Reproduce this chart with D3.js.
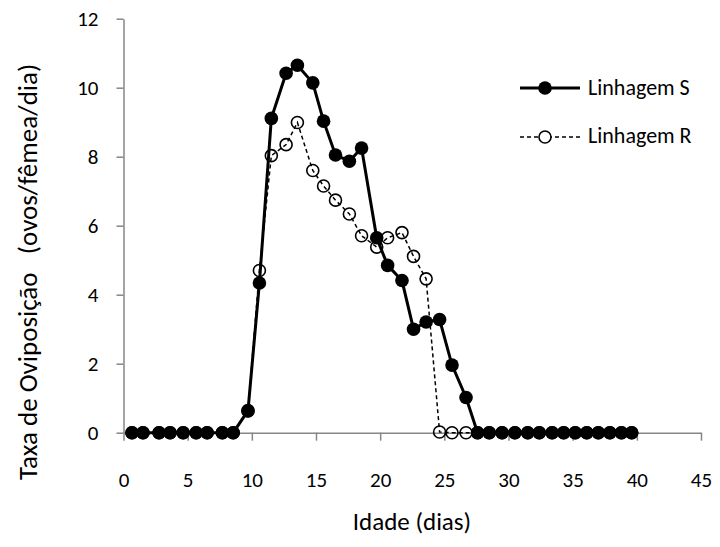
<!DOCTYPE html>
<html>
<head>
<meta charset="utf-8">
<script src="https://cdn.jsdelivr.net/npm/d3@7"></script>
<style>
    body { margin: 0; background: #fff; }
    text { font-family: Calibri, Carlito, Lato, sans-serif; fill: #000; }
</style>
</head>
<body>
<div id="chart"></div>
<script>
const width = 720,
    height = 547;

// Idade (dias)
const idade = [
    0.66, 1.52, 2.77, 3.63, 4.65, 5.66, 6.52, 7.7, 8.55,
    9.7, 10.59, 11.52, 12.67, 13.55, 14.75, 15.59, 16.52, 17.6, 18.55,
    19.73, 20.58, 21.7, 22.6, 23.58, 24.63, 25.6, 26.69,
    27.59, 28.5, 29.5, 30.5, 31.5, 32.4, 33.4, 34.3, 35.2, 36.1, 37.0,
    37.9, 38.8, 39.6
];
const linhagemS = [
    0, 0, 0, 0, 0, 0, 0, 0, 0,
    0.64, 4.34, 9.11, 10.42, 10.65, 10.14, 9.03, 8.05, 7.87, 8.25,
    5.65, 4.85, 4.41, 3.0, 3.21, 3.28, 1.96, 1.02,
    0, 0, 0, 0, 0, 0, 0, 0, 0, 0, 0, 0, 0, 0
];
const linhagemR = [
    0, 0, 0, 0, 0, 0, 0, 0, 0,
    0.63, 4.7, 8.03, 8.35, 8.99, 7.6, 7.15, 6.74, 6.34, 5.71,
    5.38, 5.65, 5.8, 5.11, 4.46, 0.02, 0, 0,
    0, 0, 0, 0, 0, 0, 0, 0, 0, 0, 0, 0, 0, 0
];
const xTicks = [0, 5, 10, 15, 20, 25, 30, 35, 40, 45];
const yTicks = [0, 2, 4, 6, 8, 10, 12];

const svg = d3
    .select("#chart")
    .append("svg")
    .attr("width", width)
    .attr("height", height);

const xScale = d3.scaleLinear().domain([0, 45]).range([123.5, 701]);
const yScale = d3.scaleLinear().domain([0, 12]).range([432.7, 18.7]);

const axisColor = "#868686";

// Axes
const xAxis = svg
    .append("g")
    .attr("transform", `translate(0, ${yScale(0)})`)
    .call(d3.axisBottom(xScale).tickValues(xTicks).tickSize(8).tickSizeOuter(0).tickPadding(31));
const yAxis = svg
    .append("g")
    .attr("transform", `translate(${xScale(0)}, 0)`)
    .call(d3.axisLeft(yScale).tickValues(yTicks).tickSize(7).tickSizeOuter(0).tickPadding(18));

[xAxis, yAxis].forEach((g) => {
    g.select(".domain").attr("stroke", axisColor).attr("stroke-width", 1.5);
    g.selectAll(".tick line").attr("stroke", axisColor).attr("stroke-width", 1.5);
    g.selectAll(".tick text")
        .attr("fill", "#000")
        .style("font-size", "21px")
        .style("font-family", "Calibri, Carlito, Lato, sans-serif");
});

// Axis titles
svg.append("text")
    .attr("x", 412)
    .attr("y", 530)
    .attr("text-anchor", "middle")
    .style("font-size", "25px")
    .text("Idade (dias)");

svg.append("text")
    .attr("transform", `translate(37, 480) rotate(-90)`)
    .attr("text-anchor", "start")
    .style("font-size", "27px")
    .style("white-space", "pre")
    .text("Taxa de Oviposição   (ovos/fêmea/dia)");

const rows = idade.map((d, i) => ({ x: d, s: linhagemS[i], r: linhagemR[i] }));

const lineR = d3.line().x((d) => xScale(d.x)).y((d) => yScale(d.r));
const lineS = d3.line().x((d) => xScale(d.x)).y((d) => yScale(d.s));

// Linhagem R (dashed, open circles)
svg.append("path")
    .datum(rows)
    .attr("fill", "none")
    .attr("stroke", "#000")
    .attr("stroke-width", 1.5)
    .attr("stroke-dasharray", "4,3")
    .attr("d", lineR);

svg.append("g")
    .selectAll("circle")
    .data(rows)
    .join("circle")
    .attr("cx", (d) => xScale(d.x))
    .attr("cy", (d) => yScale(d.r))
    .attr("r", 6)
    .attr("fill", "none")
    .attr("stroke", "#000")
    .attr("stroke-width", 1.6);

// Linhagem S (solid, filled circles)
svg.append("path")
    .datum(rows)
    .attr("fill", "none")
    .attr("stroke", "#000")
    .attr("stroke-width", 3)
    .attr("d", lineS);

svg.append("g")
    .selectAll("circle")
    .data(rows)
    .join("circle")
    .attr("cx", (d) => xScale(d.x))
    .attr("cy", (d) => yScale(d.s))
    .attr("r", 6.8)
    .attr("fill", "#000");

// Legend
const legend = svg.append("g").attr("transform", "translate(520, 0)");

legend.append("line")
    .attr("x1", 0).attr("x2", 60)
    .attr("y1", 88).attr("y2", 88)
    .attr("stroke", "#000").attr("stroke-width", 3);
legend.append("circle")
    .attr("cx", 25).attr("cy", 88).attr("r", 6.8).attr("fill", "#000");
legend.append("text")
    .attr("x", 68).attr("y", 95)
    .style("font-size", "22px")
    .text("Linhagem S");

legend.append("line")
    .attr("x1", 0).attr("x2", 60)
    .attr("y1", 137).attr("y2", 137)
    .attr("stroke", "#000").attr("stroke-width", 1.5)
    .attr("stroke-dasharray", "4,3");
legend.append("circle")
    .attr("cx", 25).attr("cy", 137).attr("r", 6)
    .attr("fill", "#fff").attr("stroke", "#000").attr("stroke-width", 1.6);
legend.append("text")
    .attr("x", 68).attr("y", 143)
    .style("font-size", "22px")
    .text("Linhagem R");
</script>
</body>
</html>
